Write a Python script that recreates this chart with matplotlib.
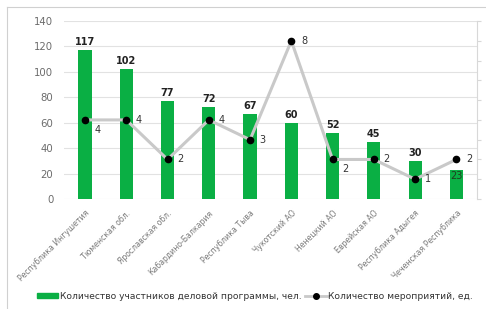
import matplotlib
matplotlib.use("Agg")
import matplotlib.pyplot as plt
import numpy as np
from matplotlib.lines import Line2D

regions = ["Республика Ингушетия", "Тюменская обл.", "Ярославская обл.",
           "Кабардино-Балкария", "Республика Тыва", "Чукотский АО",
           "Ненецкий АО", "Еврейская АО", "Республика Адыгея",
           "Чеченская Республика"]
participants = [117, 102, 77, 72, 67, 60, 52, 45, 30, 23]
events = [4, 4, 2, 4, 3, 8, 2, 2, 1, 2]

GREEN = "#0aaf44"
GREY_TXT = "#6b6b6b"

fig = plt.figure(figsize=(4.86, 3.09), dpi=100)
ax = fig.add_axes([0.1325, 0.356, 0.849, 0.576])
x = np.arange(len(regions))

ax.bar(x, participants, width=0.32, color=GREEN, zorder=2)
ax.set_ylim(0, 140)
ax.set_xlim(-0.5, len(regions) - 0.5)
ax.set_yticks(np.arange(0, 141, 20))
ax.grid(axis="y", color="#e2e2e2", lw=0.8, zorder=0)
for s in ax.spines.values():
    s.set_visible(False)
ax.tick_params(axis="y", length=0, labelsize=7.3, labelcolor=GREY_TXT, pad=8)
ax.tick_params(axis="x", length=0, pad=7)
ax.set_xticks(x)
ax.set_xticklabels(regions, rotation=45, ha="right", rotation_mode="anchor",
                   fontsize=5.6, color="#7a7a7a")

for i, v in enumerate(participants):
    if i == len(participants) - 1:
        ax.text(i, v - 1, str(v), ha="center", va="top", fontsize=7,
                color="#1f3d1f", zorder=5)
    else:
        ax.text(i, v + 2.5, str(v), ha="center", va="bottom", fontsize=7,
                fontweight="bold", color="#222222", zorder=5)

ax2 = ax.twinx()
ax2.set_ylim(0, 140 / 15.55)
ax2.plot(x, events, color="#c9c9c9", lw=2.2, zorder=3)
ax2.plot(x, events, "o", color="black", ms=4.5, zorder=4)
for s in ["top", "left", "bottom"]:
    ax2.spines[s].set_visible(False)
ax2.spines["right"].set_color("#d8d8d8")
ax2.spines["right"].set_linewidth(0.8)
ax2.set_yticks(np.arange(0, 10))
ax2.tick_params(axis="y", length=3, color="#d8d8d8", labelright=False)

low = {0, 6}
for i, v in enumerate(events):
    dy = -0.6 if i in low else 0
    ax2.annotate(str(v), (i, v), xytext=(7, dy * 12), textcoords="offset points",
                 ha="left", va="center", fontsize=7, color="#333333", zorder=5)

# outer frame
fig.add_artist(Line2D([7 / 486, 7 / 486], [0, 1 - 7 / 309], color="#d0d0d0", lw=0.8))
fig.add_artist(Line2D([7 / 486, 1], [1 - 7 / 309, 1 - 7 / 309], color="#d0d0d0", lw=0.8))

h1 = plt.Rectangle((0, 0), 1, 1, color=GREEN)
h2 = Line2D([], [], color="#c9c9c9", lw=2, marker="o", mfc="black", mec="black", ms=4)
fig.legend([h1, h2], ["Количество участников деловой программы, чел.",
                      "Количество мероприятий, ед."],
           loc="center", bbox_to_anchor=(0.525, 0.04), ncol=2, frameon=False,
           fontsize=6.6, handlelength=2.3, handleheight=0.5, handletextpad=0.2,
           columnspacing=0.4, labelcolor="#333333")

fig.savefig("out.png", dpi=100)
